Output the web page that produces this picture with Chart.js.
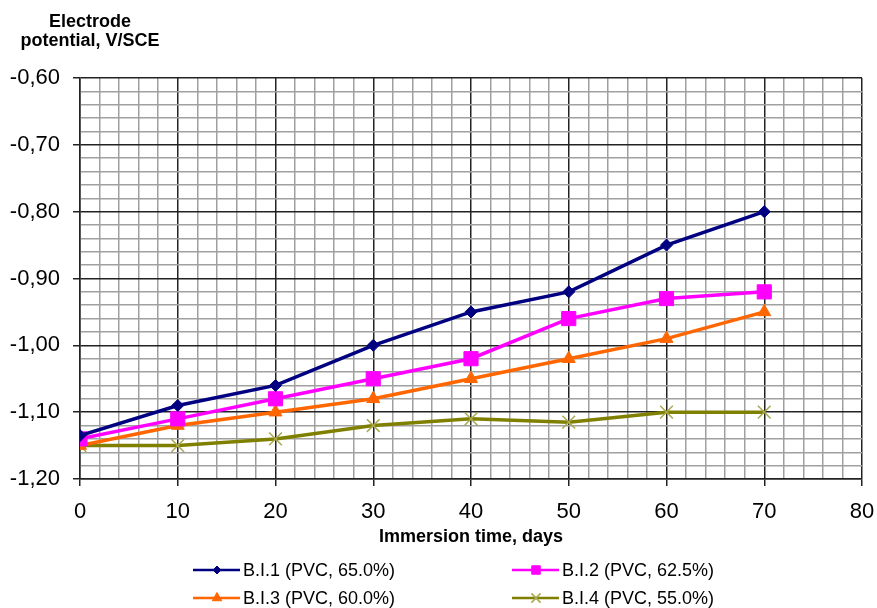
<!DOCTYPE html>
<html>
<head>
<meta charset="utf-8">
<script src="https://cdn.jsdelivr.net/npm/chart.js@4"></script>
<style>
  html, body { margin: 0; padding: 0; background: #fff; }
  #wrap { width: 877px; height: 608px; position: relative; }
</style>
</head>
<body>
<div id="wrap"><canvas id="myChart" width="877" height="608"></canvas></div>
<script>
(function() {
  // immersion time, days
  var days = [0, 10, 20, 30, 40, 50, 60, 70];
  // electrode potential, V/SCE
  var bi1 = [-1.135, -1.09, -1.06, -1.00, -0.95, -0.92, -0.85, -0.80];
  var bi2 = [-1.14, -1.11, -1.08, -1.05, -1.02, -0.96, -0.93, -0.92];
  var bi3 = [-1.15, -1.12, -1.10, -1.08, -1.05, -1.02, -0.99, -0.95];
  var bi4 = [-1.15, -1.15, -1.14, -1.12, -1.11, -1.115, -1.10, -1.10];
  var seriesNames = ['B.I.1 (PVC, 65.0%)', 'B.I.2 (PVC, 62.5%)', 'B.I.3 (PVC, 60.0%)', 'B.I.4 (PVC, 55.0%)'];
  var yTitle = ['Electrode', 'potential, V/SCE'];
  var xTitle = 'Immersion time, days';

  var FONT = "'Liberation Sans', Arial, sans-serif";

  function pts(vals) {
    return days.map(function (d, i) { return { x: d, y: vals[i] } });
  }

  function isMajorY(v) { return Math.round(v * 100) % 10 === 0 }
  function isMajorX(v) { return Math.round(v) % 10 === 0 }

  var styles = [
    { color: '#000080', marker: 'rectRot', radius: 6, legendRadius: 4, markerColor: '#000080' },
    { color: '#ff00ff', marker: 'rect', radius: 10, legendRadius: 6, markerColor: '#ff00ff' },
    { color: '#ff6600', marker: 'triangle', radius: 7.5, legendRadius: 5.5, markerColor: '#ff6600' },
    { color: '#808000', marker: 'crossRot', radius: 9, legendRadius: 6.5, markerColor: '#a8a850' }
  ];

  var datasets = [bi1, bi2, bi3, bi4].map(function (vals, i) {
    var s = styles[i];
    return {
      label: seriesNames[i],
      data: pts(vals),
      borderColor: s.color,
      backgroundColor: s.markerColor,
      borderWidth: 3.5,
      pointStyle: s.marker,
      pointRadius: s.radius,
      pointBorderColor: s.markerColor,
      pointBackgroundColor: s.markerColor,
      pointBorderWidth: s.marker === 'crossRot' ? 1.5 : 1,
      tension: 0
    };
  });

  // legend + y title drawn straight onto the canvas
  var extras = {
    id: 'extras',
    afterDraw: function (chart) {
      var ctx = chart.ctx;
      ctx.save();
      ctx.fillStyle = '#000';
      ctx.font = 'bold 18px ' + FONT;
      ctx.textAlign = 'center';
      ctx.textBaseline = 'alphabetic';
      ctx.fillText(yTitle[0], 90, 27);
      ctx.fillText(yTitle[1], 90, 46);

      var cols = [193, 512];
      var rows = [570, 598];
      ctx.font = '18px ' + FONT;
      ctx.textAlign = 'left';
      ctx.textBaseline = 'middle';
      for (var i = 0; i < 4; i++) {
        var s = styles[i];
        var x = cols[i % 2], y = rows[Math.floor(i / 2)];
        ctx.strokeStyle = s.color;
        ctx.lineWidth = 2.5;
        ctx.beginPath();
        ctx.moveTo(x, y);
        ctx.lineTo(x + 47, y);
        ctx.stroke();
        ctx.fillStyle = s.markerColor;
        ctx.strokeStyle = s.markerColor;
        ctx.lineWidth = s.marker === 'crossRot' ? 1.5 : 1;
        Chart.helpers.drawPoint(ctx, { pointStyle: s.marker, radius: s.legendRadius, rotation: 0, borderWidth: ctx.lineWidth }, x + 24, y);
        ctx.fillStyle = '#000';
        ctx.fillText(seriesNames[i], x + 50, y + 1);
      }
      ctx.restore();
    }
  };

  var chart = new Chart(document.getElementById('myChart').getContext('2d'), {
    type: 'line',
    data: { datasets: datasets },
    plugins: [extras],
    options: {
      responsive: false,
      animation: false,
      layout: { padding: { left: 0, top: 78, right: 15, bottom: 58 } },
      plugins: { legend: { display: false }, tooltip: { enabled: false } },
      scales: {
        x: {
          type: 'linear',
          min: 0, max: 80,
          ticks: {
            stepSize: 2,
            autoSkip: false,
            maxRotation: 0,
            padding: 13,
            color: '#000',
            font: { family: FONT, size: 22 },
            callback: function (v) { return isMajorX(v) ? String(Math.round(v)) : '' }
          },
          grid: {
            color: function (c) { return c.tick && isMajorX(c.tick.value) ? '#222' : '#a0a0a0' },
            lineWidth: 1.5,
            tickLength: 7,
            tickColor: function (c) { return c.tick && isMajorX(c.tick.value) ? '#222' : 'rgba(0,0,0,0)' }
          },
          border: { color: '#222', width: 1.5 },
          title: {
            display: true,
            text: xTitle,
            color: '#000',
            font: { family: FONT, size: 18, weight: 'bold' },
            padding: { top: 0, bottom: 2 }
          },
          afterFit: function (scale) {
            scale.height = 71;
            scale.paddingLeft = 0;
            scale.paddingRight = 0;
          }
        },
        y: {
          type: 'linear',
          min: -1.2, max: -0.6,
          ticks: {
            stepSize: 0.02,
            autoSkip: false,
            padding: 13,
            color: '#000',
            font: { family: FONT, size: 22 },
            callback: function (v) { return isMajorY(v) ? v.toFixed(2).replace('.', ',') : '' }
          },
          grid: {
            color: function (c) { return c.tick && isMajorY(c.tick.value) ? '#222' : '#a0a0a0' },
            lineWidth: 1.5,
            tickLength: 7,
            tickColor: function (c) { return c.tick && isMajorY(c.tick.value) ? '#222' : 'rgba(0,0,0,0)' }
          },
          border: { color: '#222', width: 1.5 },
          afterFit: function (scale) {
            scale.width = 80;
            scale.paddingTop = 0;
            scale.paddingBottom = 0;
          }
        }
      }
    }
  });
})();
</script>
</body>
</html>
